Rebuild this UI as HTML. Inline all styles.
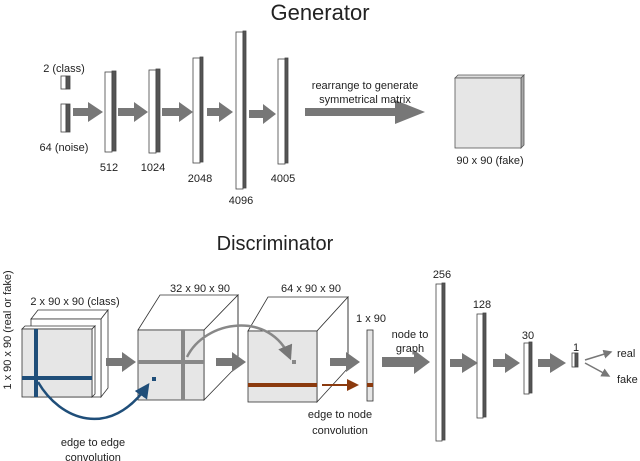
<!DOCTYPE html>
<html><head><meta charset="utf-8"><style>body{margin:0;background:#fff}svg{display:block}text{font-family:"Liberation Sans",sans-serif;fill:#222}</style></head><body>
<svg width="640" height="461" viewBox="0 0 640 461" xmlns="http://www.w3.org/2000/svg">
<defs>
<marker id="ga" markerWidth="6" markerHeight="6" refX="5" refY="3" orient="auto"><path d="M0,0L6,3L0,6z" fill="#777"/></marker>
<marker id="ba" markerWidth="6" markerHeight="6" refX="5" refY="3" orient="auto"><path d="M0,0L6,3L0,6z" fill="#1f4e79"/></marker>
<marker id="oa" markerWidth="6" markerHeight="6" refX="5" refY="3" orient="auto"><path d="M0,0L6,3L0,6z" fill="#8b3a0e"/></marker>
</defs>
<g font-size="11">
<text x="320" y="20" font-size="22" text-anchor="middle">Generator</text>
<text x="275" y="250" font-size="20" text-anchor="middle">Discriminator</text>
</g>
<g stroke="#444" stroke-width="0.8">
<rect x="61" y="76" width="5" height="13" fill="#fff"/><rect x="66" y="76" width="4" height="13" fill="#555"/>
<rect x="61" y="104" width="5" height="28" fill="#fff"/><rect x="66" y="104" width="4" height="28" fill="#555"/>
<rect x="105" y="72" width="7" height="80" fill="#fff"/><rect x="112" y="71" width="4" height="80" fill="#555"/>
<rect x="149" y="70" width="7" height="83" fill="#fff"/><rect x="156" y="69" width="4" height="83" fill="#555"/>
<rect x="193" y="58" width="7" height="105" fill="#fff"/><rect x="200" y="57" width="3" height="105" fill="#555"/>
<rect x="236" y="32" width="7" height="157" fill="#fff"/><rect x="243" y="31" width="3" height="157" fill="#555"/>
<rect x="278" y="59" width="7" height="105" fill="#fff"/><rect x="285" y="58" width="3" height="105" fill="#555"/>
<rect x="436" y="284" width="6" height="157" fill="#fff"/><rect x="442" y="283" width="3" height="157" fill="#555"/>
<rect x="477" y="314" width="6" height="104" fill="#fff"/><rect x="483" y="313" width="3" height="104" fill="#555"/>
<rect x="524" y="343" width="5" height="51" fill="#fff"/><rect x="529" y="342" width="3" height="51" fill="#555"/>
<rect x="572" y="353" width="3" height="14" fill="#fff"/><rect x="575" y="353" width="3" height="14" fill="#555"/>
</g>
<!-- fake matrix -->
<g stroke="#555" stroke-width="0.8">
<path d="M455,78l3,-3h66l-3,3z" fill="#ddd"/>
<path d="M521,78l3,-3v70l-3,3z" fill="#aaa"/>
<rect x="455" y="78" width="66" height="70" fill="#e6e6e6"/>
</g>
<!-- disc input -->
<g stroke="#333" stroke-width="0.8">
<path d="M31,319l7,-9h70l-7,9z" fill="#fff"/>
<path d="M101,319l7,-9v78l-7,9z" fill="#fff"/>
<rect x="31" y="319" width="70" height="78" fill="#fff"/>
<path d="M22,329l3,-3h70l-3,3z" fill="#fff"/>
<path d="M92,329l3,-3v68l-3,3z" fill="#fff"/>
<rect x="22" y="329" width="70" height="68" fill="#e6e6e6"/>
</g>
<rect x="34" y="329" width="4" height="68" fill="#1f4e79"/>
<rect x="22" y="376" width="70" height="4" fill="#1f4e79"/>
<!-- cube1 -->
<g stroke="#333" stroke-width="0.8">
<path d="M138,330l22,-35h78l-34,35z" fill="#fff"/>
<path d="M204,330l34,-35v70l-34,35z" fill="#fff"/>
<rect x="138" y="330" width="66" height="70" fill="#e6e6e6"/>
</g>
<line x1="238" y1="295" x2="238" y2="365" stroke="#333" stroke-width="0.8"/>
<rect x="181" y="330" width="4" height="70" fill="#888"/>
<rect x="138" y="360" width="66" height="4" fill="#888"/>
<rect x="152" y="377" width="4" height="4" fill="#1f4e79"/>
<!-- cube2 -->
<g stroke="#333" stroke-width="0.8">
<path d="M248,331l20,-34h80l-31,34z" fill="#fff"/>
<path d="M317,331l31,-34v71l-31,34z" fill="#fff"/>
<rect x="248" y="331" width="69" height="71" fill="#e6e6e6"/>
</g>
<line x1="348" y1="297" x2="348" y2="355" stroke="#333" stroke-width="0.8"/>
<rect x="248" y="383" width="69" height="4" fill="#8b3a0e"/>
<rect x="292" y="360" width="4" height="4" fill="#888"/>
<!-- 1x90 bar -->
<rect x="367" y="330" width="6" height="71" fill="#e6e6e6" stroke="#333" stroke-width="0.8"/>
<rect x="367" y="383" width="6" height="4" fill="#8b3a0e"/>
<!-- block arrows -->
<g fill="#777">
<path d="M73,108h15v-6l15,10l-15,10v-6h-15z"/>
<path d="M118,108h16v-6l14,10l-14,10v-6h-16z"/>
<path d="M162,108h17v-6l14,10l-14,10v-6h-17z"/>
<path d="M207,108h12v-6l14,10l-14,10v-6h-12z"/>
<path d="M249,110h14v-6l13,10l-13,10v-6h-14z"/>
<path d="M305,108h90v-8l30,12l-30,12v-8h-90z"/>
<path d="M106,358h16v-6l14,10l-14,10v-6h-16z"/>
<path d="M216,358h16v-6l14,10l-14,10v-6h-16z"/>
<path d="M330,358h16v-6l14,10l-14,10v-6h-16z"/>
<path d="M382,357h32v-7l16,12l-16,12v-7h-32z"/>
<path d="M450,359h12v-6l16,10l-16,10v-6h-12z"/>
<path d="M493,359h12v-6l15,10l-15,10v-6h-12z"/>
<path d="M538,359h12v-6l16,10l-16,10v-6h-12z"/>
</g>
<!-- curves -->
<path d="M187,357C205,320 270,310 290,358" fill="none" stroke="#888" stroke-width="2.5" marker-end="url(#ga)"/>
<path d="M38,382C60,420 110,440 148,385" fill="none" stroke="#1f4e79" stroke-width="2.5" marker-end="url(#ba)"/>
<line x1="322" y1="385" x2="357" y2="385" stroke="#8b3a0e" stroke-width="2" marker-end="url(#oa)"/>
<line x1="585" y1="360" x2="611" y2="352" stroke="#777" stroke-width="1.5" marker-end="url(#ga)"/>
<line x1="585" y1="363" x2="609" y2="376" stroke="#777" stroke-width="1.5" marker-end="url(#ga)"/>
<!-- labels -->
<g font-size="11" text-anchor="middle">
<text x="64" y="72">2 (class)</text>
<text x="64" y="151">64 (noise)</text>
<text x="109" y="171">512</text>
<text x="153" y="171">1024</text>
<text x="200" y="182">2048</text>
<text x="241" y="204">4096</text>
<text x="283" y="182">4005</text>
<text x="365" y="89">rearrange to generate</text>
<text x="365" y="103">symmetrical matrix</text>
<text x="490" y="164">90 x 90 (fake)</text>
<text x="75" y="305">2 x 90 x 90 (class)</text>
<text x="200" y="292">32 x 90 x 90</text>
<text x="311" y="292">64 x 90 x 90</text>
<text x="371" y="322">1 x 90</text>
<text x="410" y="338">node to</text>
<text x="410" y="352">graph</text>
<text x="340" y="418">edge to node</text>
<text x="340" y="434">convolution</text>
<text x="93" y="446">edge to edge</text>
<text x="93" y="461">convolution</text>
<text x="442" y="278">256</text>
<text x="482" y="308">128</text>
<text x="528" y="339">30</text>
<text x="576" y="351">1</text>
<text x="11" y="330" transform="rotate(-90 11 330)">1 x 90 x 90 (real or fake)</text>
</g>
<text x="617" y="357" font-size="11">real</text>
<text x="617" y="383" font-size="11">fake</text>
</svg>
</body></html>
